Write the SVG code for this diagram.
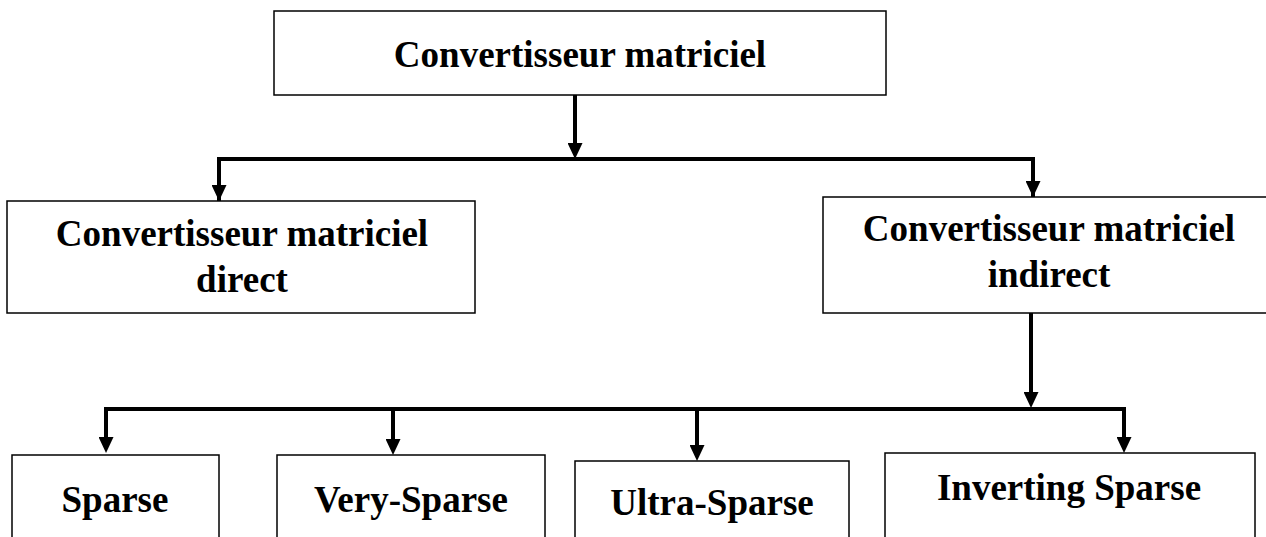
<svg xmlns="http://www.w3.org/2000/svg" width="1266" height="537" viewBox="0 0 1266 537">
<defs>
<style>
.box{fill:#fff;stroke:#000;stroke-width:1.5}
.t{font-family:"Liberation Serif","Times New Roman",serif;font-weight:bold;font-size:37px;fill:#000;text-anchor:middle}
.c{fill:none;stroke:#000;stroke-width:4}
</style>
<marker id="ah" viewBox="0 0 16 15" refX="8" refY="7.5" markerWidth="16" markerHeight="15" markerUnits="userSpaceOnUse" orient="auto">
<path d="M0,0 L16,7.5 L0,15 z" fill="#000"/>
</marker>
</defs>
<rect width="1266" height="537" fill="#fff"/>
<g id="connectors">
<path class="c" d="M575,95 V151" marker-end="url(#ah)"/>
<path class="c" d="M219,201 V159 H1033 V197"/>
<path class="c" d="M219,159 V193" marker-end="url(#ah)"/>
<path class="c" d="M1033,159 V189" marker-end="url(#ah)"/>
<path class="c" d="M1031,313 V400" marker-end="url(#ah)"/>
<path class="c" d="M106,445 V409 H1124 V445"/>
<path class="c" d="M106,409 V445" marker-end="url(#ah)"/>
<path class="c" d="M393,409 V447" marker-end="url(#ah)"/>
<path class="c" d="M697,409 V453" marker-end="url(#ah)"/>
<path class="c" d="M1124,409 V445" marker-end="url(#ah)"/>
</g>
<g id="node-root">
<rect class="box" x="274" y="11" width="612" height="84"/>
<text class="t" x="580" y="67">Convertisseur matriciel</text>
</g>
<g id="node-direct">
<rect class="box" x="7" y="201" width="468" height="112"/>
<text class="t" x="242" y="246">Convertisseur matriciel</text>
<text class="t" x="242" y="292">direct</text>
</g>
<g id="node-indirect">
<rect class="box" x="823" y="197" width="460" height="116"/>
<text class="t" x="1049" y="241">Convertisseur matriciel</text>
<text class="t" x="1049" y="287">indirect</text>
</g>
<g id="node-sparse">
<rect class="box" x="12" y="455" width="207" height="100"/>
<text class="t" x="115" y="512">Sparse</text>
</g>
<g id="node-very-sparse">
<rect class="box" x="277" y="455" width="268" height="100"/>
<text class="t" x="411" y="512">Very-Sparse</text>
</g>
<g id="node-ultra-sparse">
<rect class="box" x="575" y="461" width="274" height="100"/>
<text class="t" x="712" y="515">Ultra-Sparse</text>
</g>
<g id="node-inverting-sparse">
<rect class="box" x="885" y="453" width="370" height="100"/>
<text class="t" x="1069" y="500">Inverting Sparse</text>
</g>
</svg>
